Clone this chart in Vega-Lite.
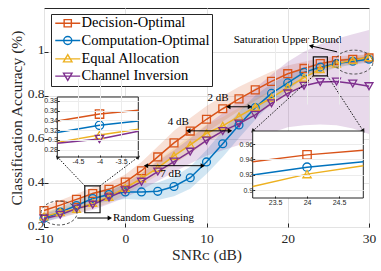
{
 "$schema": "https://vega.github.io/schema/vega-lite/v6.json",
 "width": 325, "height": 219,
 "autosize": {"type": "none"},
 "padding": {"left": 44, "top": 8, "right": 12, "bottom": 44},
 "background": "white",
 "config": {"view": {"stroke": "#262626", "strokeWidth": 1}, "font": "Liberation Serif"},
 "datasets": {
  "series": [
   {"snr":-10,"method":"Decision-Optimal","acc":0.275},{"snr":-8,"method":"Decision-Optimal","acc":0.300},{"snr":-6,"method":"Decision-Optimal","acc":0.326},{"snr":-4,"method":"Decision-Optimal","acc":0.353},{"snr":-2,"method":"Decision-Optimal","acc":0.372},{"snr":0,"method":"Decision-Optimal","acc":0.405},{"snr":2,"method":"Decision-Optimal","acc":0.457},{"snr":4,"method":"Decision-Optimal","acc":0.520},{"snr":6,"method":"Decision-Optimal","acc":0.584},{"snr":8,"method":"Decision-Optimal","acc":0.638},{"snr":10,"method":"Decision-Optimal","acc":0.692},{"snr":12,"method":"Decision-Optimal","acc":0.740},{"snr":14,"method":"Decision-Optimal","acc":0.785},{"snr":16,"method":"Decision-Optimal","acc":0.826},{"snr":18,"method":"Decision-Optimal","acc":0.865},{"snr":20,"method":"Decision-Optimal","acc":0.900},{"snr":22,"method":"Decision-Optimal","acc":0.924},{"snr":24,"method":"Decision-Optimal","acc":0.946},{"snr":26,"method":"Decision-Optimal","acc":0.960},{"snr":28,"method":"Decision-Optimal","acc":0.966},{"snr":30,"method":"Decision-Optimal","acc":0.972},
   {"snr":-10,"method":"Computation-Optimal","acc":0.240},{"snr":-8,"method":"Computation-Optimal","acc":0.268},{"snr":-6,"method":"Computation-Optimal","acc":0.298},{"snr":-4,"method":"Computation-Optimal","acc":0.330},{"snr":-2,"method":"Computation-Optimal","acc":0.348},{"snr":0,"method":"Computation-Optimal","acc":0.360},{"snr":2,"method":"Computation-Optimal","acc":0.360},{"snr":4,"method":"Computation-Optimal","acc":0.363},{"snr":6,"method":"Computation-Optimal","acc":0.385},{"snr":8,"method":"Computation-Optimal","acc":0.425},{"snr":10,"method":"Computation-Optimal","acc":0.497},{"snr":12,"method":"Computation-Optimal","acc":0.580},{"snr":14,"method":"Computation-Optimal","acc":0.666},{"snr":16,"method":"Computation-Optimal","acc":0.745},{"snr":18,"method":"Computation-Optimal","acc":0.810},{"snr":20,"method":"Computation-Optimal","acc":0.858},{"snr":22,"method":"Computation-Optimal","acc":0.906},{"snr":24,"method":"Computation-Optimal","acc":0.930},{"snr":26,"method":"Computation-Optimal","acc":0.946},{"snr":28,"method":"Computation-Optimal","acc":0.957},{"snr":30,"method":"Computation-Optimal","acc":0.966},
   {"snr":-10,"method":"Equal Allocation","acc":0.248},{"snr":-8,"method":"Equal Allocation","acc":0.268},{"snr":-6,"method":"Equal Allocation","acc":0.282},{"snr":-4,"method":"Equal Allocation","acc":0.310},{"snr":-2,"method":"Equal Allocation","acc":0.337},{"snr":0,"method":"Equal Allocation","acc":0.378},{"snr":2,"method":"Equal Allocation","acc":0.422},{"snr":4,"method":"Equal Allocation","acc":0.470},{"snr":6,"method":"Equal Allocation","acc":0.525},{"snr":8,"method":"Equal Allocation","acc":0.575},{"snr":10,"method":"Equal Allocation","acc":0.628},{"snr":12,"method":"Equal Allocation","acc":0.662},{"snr":14,"method":"Equal Allocation","acc":0.705},{"snr":16,"method":"Equal Allocation","acc":0.748},{"snr":18,"method":"Equal Allocation","acc":0.790},{"snr":20,"method":"Equal Allocation","acc":0.838},{"snr":22,"method":"Equal Allocation","acc":0.882},{"snr":24,"method":"Equal Allocation","acc":0.921},{"snr":26,"method":"Equal Allocation","acc":0.946},{"snr":28,"method":"Equal Allocation","acc":0.962},{"snr":30,"method":"Equal Allocation","acc":0.975},
   {"snr":-10,"method":"Channel Inversion","acc":0.238},{"snr":-8,"method":"Channel Inversion","acc":0.256},{"snr":-6,"method":"Channel Inversion","acc":0.284},{"snr":-4,"method":"Channel Inversion","acc":0.302},{"snr":-2,"method":"Channel Inversion","acc":0.335},{"snr":0,"method":"Channel Inversion","acc":0.368},{"snr":2,"method":"Channel Inversion","acc":0.407},{"snr":4,"method":"Channel Inversion","acc":0.453},{"snr":6,"method":"Channel Inversion","acc":0.499},{"snr":8,"method":"Channel Inversion","acc":0.544},{"snr":10,"method":"Channel Inversion","acc":0.595},{"snr":12,"method":"Channel Inversion","acc":0.638},{"snr":14,"method":"Channel Inversion","acc":0.672},{"snr":16,"method":"Channel Inversion","acc":0.712},{"snr":18,"method":"Channel Inversion","acc":0.765},{"snr":20,"method":"Channel Inversion","acc":0.810},{"snr":22,"method":"Channel Inversion","acc":0.845},{"snr":24,"method":"Channel Inversion","acc":0.862},{"snr":26,"method":"Channel Inversion","acc":0.864},{"snr":28,"method":"Channel Inversion","acc":0.855},{"snr":30,"method":"Channel Inversion","acc":0.843}
  ],
  "bands": [
   {"snr":-10,"method":"Decision-Optimal","lo":0.255,"hi":0.295},{"snr":-8,"method":"Decision-Optimal","lo":0.278,"hi":0.322},{"snr":-6,"method":"Decision-Optimal","lo":0.301,"hi":0.351},{"snr":-4,"method":"Decision-Optimal","lo":0.325,"hi":0.381},{"snr":-2,"method":"Decision-Optimal","lo":0.342,"hi":0.402},{"snr":0,"method":"Decision-Optimal","lo":0.370,"hi":0.440},{"snr":2,"method":"Decision-Optimal","lo":0.417,"hi":0.497},{"snr":4,"method":"Decision-Optimal","lo":0.472,"hi":0.568},{"snr":6,"method":"Decision-Optimal","lo":0.529,"hi":0.639},{"snr":8,"method":"Decision-Optimal","lo":0.578,"hi":0.698},{"snr":10,"method":"Decision-Optimal","lo":0.632,"hi":0.752},{"snr":12,"method":"Decision-Optimal","lo":0.682,"hi":0.798},{"snr":14,"method":"Decision-Optimal","lo":0.730,"hi":0.840},{"snr":16,"method":"Decision-Optimal","lo":0.776,"hi":0.876},{"snr":18,"method":"Decision-Optimal","lo":0.820,"hi":0.910},{"snr":20,"method":"Decision-Optimal","lo":0.862,"hi":0.938},{"snr":22,"method":"Decision-Optimal","lo":0.894,"hi":0.954},{"snr":24,"method":"Decision-Optimal","lo":0.921,"hi":0.971},{"snr":26,"method":"Decision-Optimal","lo":0.940,"hi":0.980},{"snr":28,"method":"Decision-Optimal","lo":0.948,"hi":0.984},{"snr":30,"method":"Decision-Optimal","lo":0.956,"hi":0.988},
   {"snr":-10,"method":"Computation-Optimal","lo":0.220,"hi":0.260},{"snr":-8,"method":"Computation-Optimal","lo":0.246,"hi":0.290},{"snr":-6,"method":"Computation-Optimal","lo":0.273,"hi":0.323},{"snr":-4,"method":"Computation-Optimal","lo":0.303,"hi":0.357},{"snr":-2,"method":"Computation-Optimal","lo":0.318,"hi":0.378},{"snr":0,"method":"Computation-Optimal","lo":0.328,"hi":0.392},{"snr":2,"method":"Computation-Optimal","lo":0.325,"hi":0.395},{"snr":4,"method":"Computation-Optimal","lo":0.323,"hi":0.403},{"snr":6,"method":"Computation-Optimal","lo":0.340,"hi":0.430},{"snr":8,"method":"Computation-Optimal","lo":0.375,"hi":0.475},{"snr":10,"method":"Computation-Optimal","lo":0.442,"hi":0.552},{"snr":12,"method":"Computation-Optimal","lo":0.520,"hi":0.640},{"snr":14,"method":"Computation-Optimal","lo":0.606,"hi":0.726},{"snr":16,"method":"Computation-Optimal","lo":0.690,"hi":0.800},{"snr":18,"method":"Computation-Optimal","lo":0.765,"hi":0.855},{"snr":20,"method":"Computation-Optimal","lo":0.823,"hi":0.893},{"snr":22,"method":"Computation-Optimal","lo":0.881,"hi":0.931},{"snr":24,"method":"Computation-Optimal","lo":0.910,"hi":0.950},{"snr":26,"method":"Computation-Optimal","lo":0.928,"hi":0.964},{"snr":28,"method":"Computation-Optimal","lo":0.941,"hi":0.973},{"snr":30,"method":"Computation-Optimal","lo":0.951,"hi":0.981},
   {"snr":-10,"method":"Equal Allocation","lo":0.232,"hi":0.268},{"snr":-8,"method":"Equal Allocation","lo":0.248,"hi":0.288},{"snr":-6,"method":"Equal Allocation","lo":0.260,"hi":0.304},{"snr":-4,"method":"Equal Allocation","lo":0.286,"hi":0.334},{"snr":-2,"method":"Equal Allocation","lo":0.309,"hi":0.361},{"snr":0,"method":"Equal Allocation","lo":0.350,"hi":0.406},{"snr":2,"method":"Equal Allocation","lo":0.392,"hi":0.452},{"snr":4,"method":"Equal Allocation","lo":0.436,"hi":0.504},{"snr":6,"method":"Equal Allocation","lo":0.488,"hi":0.562},{"snr":8,"method":"Equal Allocation","lo":0.535,"hi":0.615},{"snr":10,"method":"Equal Allocation","lo":0.588,"hi":0.668},{"snr":12,"method":"Equal Allocation","lo":0.622,"hi":0.702},{"snr":14,"method":"Equal Allocation","lo":0.665,"hi":0.745},{"snr":16,"method":"Equal Allocation","lo":0.710,"hi":0.786},{"snr":18,"method":"Equal Allocation","lo":0.755,"hi":0.825},{"snr":20,"method":"Equal Allocation","lo":0.806,"hi":0.870},{"snr":22,"method":"Equal Allocation","lo":0.855,"hi":0.909},{"snr":24,"method":"Equal Allocation","lo":0.899,"hi":0.943},{"snr":26,"method":"Equal Allocation","lo":0.928,"hi":0.964},{"snr":28,"method":"Equal Allocation","lo":0.946,"hi":0.978},{"snr":30,"method":"Equal Allocation","lo":0.960,"hi":0.990},
   {"snr":-10,"method":"Channel Inversion","lo":0.225,"hi":0.260},{"snr":-8,"method":"Channel Inversion","lo":0.240,"hi":0.278},{"snr":-6,"method":"Channel Inversion","lo":0.262,"hi":0.302},{"snr":-4,"method":"Channel Inversion","lo":0.278,"hi":0.326},{"snr":-2,"method":"Channel Inversion","lo":0.305,"hi":0.360},{"snr":0,"method":"Channel Inversion","lo":0.335,"hi":0.400},{"snr":2,"method":"Channel Inversion","lo":0.370,"hi":0.445},{"snr":4,"method":"Channel Inversion","lo":0.410,"hi":0.500},{"snr":6,"method":"Channel Inversion","lo":0.450,"hi":0.550},{"snr":8,"method":"Channel Inversion","lo":0.490,"hi":0.605},{"snr":10,"method":"Channel Inversion","lo":0.525,"hi":0.665},{"snr":12,"method":"Channel Inversion","lo":0.550,"hi":0.720},{"snr":14,"method":"Channel Inversion","lo":0.575,"hi":0.775},{"snr":16,"method":"Channel Inversion","lo":0.600,"hi":0.835},{"snr":18,"method":"Channel Inversion","lo":0.630,"hi":0.895},{"snr":20,"method":"Channel Inversion","lo":0.655,"hi":0.955},{"snr":22,"method":"Channel Inversion","lo":0.665,"hi":1.000},{"snr":24,"method":"Channel Inversion","lo":0.668,"hi":1.035},{"snr":26,"method":"Channel Inversion","lo":0.665,"hi":1.060},{"snr":28,"method":"Channel Inversion","lo":0.650,"hi":1.080},{"snr":30,"method":"Channel Inversion","lo":0.625,"hi":1.100}
  ],
  "inset1": [
   {"snr":-4.98,"method":"Decision-Optimal","acc":0.339},{"snr":-4,"method":"Decision-Optimal","acc":0.353},{"snr":-3.1,"method":"Decision-Optimal","acc":0.361},
   {"snr":-4.98,"method":"Computation-Optimal","acc":0.315},{"snr":-4,"method":"Computation-Optimal","acc":0.330},{"snr":-3.1,"method":"Computation-Optimal","acc":0.339},
   {"snr":-4.98,"method":"Equal Allocation","acc":0.295},{"snr":-4,"method":"Equal Allocation","acc":0.310},{"snr":-3.1,"method":"Equal Allocation","acc":0.322},
   {"snr":-4.98,"method":"Channel Inversion","acc":0.293},{"snr":-4,"method":"Channel Inversion","acc":0.302},{"snr":-3.1,"method":"Channel Inversion","acc":0.318}
  ],
  "inset2": [
   {"snr":23.15,"method":"Decision-Optimal","acc":0.937},{"snr":24,"method":"Decision-Optimal","acc":0.946},{"snr":24.88,"method":"Decision-Optimal","acc":0.952},
   {"snr":23.15,"method":"Computation-Optimal","acc":0.920},{"snr":24,"method":"Computation-Optimal","acc":0.930},{"snr":24.88,"method":"Computation-Optimal","acc":0.937},
   {"snr":23.15,"method":"Equal Allocation","acc":0.905},{"snr":24,"method":"Equal Allocation","acc":0.921},{"snr":24.88,"method":"Equal Allocation","acc":0.932}
  ],
  "boxes": [{"x0":-4.98,"x1":-3.1,"y0":0.265,"y1":0.388},{"x0":23.15,"x1":24.88,"y0":0.89,"y1":0.977}],
  "connectors": [{"x1":-4.98,"y1":0.388,"x2":-8.36,"y2":0.52},{"x1":-3.1,"y1":0.388,"x2":1.61,"y2":0.52},{"x1":23.15,"y1":0.89,"x2":15.69,"y2":0.638},{"x1":24.88,"y1":0.89,"x2":29.3,"y2":0.638}],
  "dbarrows": [{"x1":12.68,"x2":15.35,"y":0.749},{"x1":7.76,"x2":12.89,"y":0.639},{"x1":2.55,"x2":9.55,"y":0.48}],
  "notes": [{"x":11.42,"y":0.789,"t":"2 dB"},{"x":6.53,"y":0.679,"t":"4 dB"},{"x":5.6,"y":0.442,"t":"7 dB"},{"x":19.97,"y":1.054,"t":"Saturation Upper Bound"}]
 },
 "layer": [
  {
   "layer": [
    {"data": {"name": "bands"}, "mark": {"type": "area", "opacity": 0.18},
     "encoding": {
      "x": {"field": "snr", "type": "quantitative", "scale": {"domain": [-10, 30], "nice": false, "zero": false},
            "axis": {"title": "SNRᴄ (dB)", "values": [-10, 0, 10, 20, 30], "labelExpr": "datum.value < 0 ? '-' + abs(datum.value) : '' + datum.value", "grid": true, "gridColor": "#e3e3e3", "domain": false, "tickSize": -4, "tickColor": "#262626", "labelFont": "Liberation Serif", "labelFontSize": 13.5, "labelColor": "#262626", "labelPadding": 8, "labelFlush": false, "titleFont": "Liberation Serif", "titleFontSize": 15.5, "titleFontWeight": "normal", "titleColor": "#262626", "titlePadding": 3}},
      "y": {"field": "lo", "type": "quantitative", "scale": {"domain": [0.2, 1.2], "nice": false, "zero": false},
            "axis": {"title": "Classification Accuracy (%)", "values": [0.2, 0.4, 0.6, 0.8, 1], "format": "~g", "grid": true, "gridColor": "#e3e3e3", "domain": false, "tickSize": -4, "tickColor": "#262626", "labelFont": "Liberation Serif", "labelFontSize": 13.5, "labelColor": "#262626", "labelPadding": 4, "labelOffset": -2, "labelFlush": false, "titleFont": "Liberation Serif", "titleFontSize": 15.5, "titleFontWeight": "normal", "titleColor": "#262626", "titlePadding": 3}},
      "y2": {"field": "hi"},
      "color": {"field": "method", "type": "nominal", "scale": {"domain": ["Decision-Optimal", "Computation-Optimal", "Equal Allocation", "Channel Inversion"], "range": ["#D95319", "#0072BD", "#EDB120", "#7E2F8E"]}, "legend": null}
     }},
    {"data": {"name": "series"}, "mark": {"type": "line", "strokeWidth": 1.5},
     "encoding": {
      "x": {"field": "snr", "type": "quantitative"},
      "y": {"field": "acc", "type": "quantitative"},
      "color": {"field": "method", "type": "nominal", "legend": null}
     }},
    {"data": {"name": "series"}, "mark": {"type": "point", "filled": false, "size": 62, "strokeWidth": 1.3, "opacity": 1},
     "encoding": {
      "x": {"field": "snr", "type": "quantitative"},
      "y": {"field": "acc", "type": "quantitative"},
      "color": {"field": "method", "type": "nominal", "legend": null},
      "shape": {"field": "method", "type": "nominal", "scale": {"domain": ["Decision-Optimal", "Computation-Optimal", "Equal Allocation", "Channel Inversion"], "range": ["square", "circle", "triangle-up", "triangle-down"]}, "legend": null}
     }},
    {"data": {"name": "boxes"}, "mark": {"type": "rect", "fill": "transparent", "stroke": "#111111", "strokeWidth": 1.2},
     "encoding": {"x": {"field": "x0", "type": "quantitative"}, "x2": {"field": "x1"}, "y": {"field": "y0", "type": "quantitative"}, "y2": {"field": "y1"}}},
    {"data": {"name": "connectors"}, "mark": {"type": "rule", "strokeDash": [1.5, 1.5], "strokeWidth": 1, "color": "#111111"},
     "encoding": {"x": {"field": "x1", "type": "quantitative"}, "y": {"field": "y1", "type": "quantitative"}, "x2": {"field": "x2"}, "y2": {"field": "y2"}}},
    {"data": {"values": [{"x": -8.36, "y": 0.52}]}, "mark": {"type": "point", "shape": "triangle-right", "angle": 226, "filled": true, "color": "#111111", "size": 22, "opacity": 1},
     "encoding": {"x": {"field": "x", "type": "quantitative"}, "y": {"field": "y", "type": "quantitative"}}},
    {"data": {"values": [{"x": 1.61, "y": 0.52}]}, "mark": {"type": "point", "shape": "triangle-right", "angle": 323, "filled": true, "color": "#111111", "size": 22, "opacity": 1},
     "encoding": {"x": {"field": "x", "type": "quantitative"}, "y": {"field": "y", "type": "quantitative"}}},
    {"data": {"values": [{"x": 15.69, "y": 0.638}]}, "mark": {"type": "point", "shape": "triangle-right", "angle": 138, "filled": true, "color": "#111111", "size": 22, "opacity": 1},
     "encoding": {"x": {"field": "x", "type": "quantitative"}, "y": {"field": "y", "type": "quantitative"}}},
    {"data": {"values": [{"x": 29.3, "y": 0.638}]}, "mark": {"type": "point", "shape": "triangle-right", "angle": 57, "filled": true, "color": "#111111", "size": 22, "opacity": 1},
     "encoding": {"x": {"field": "x", "type": "quantitative"}, "y": {"field": "y", "type": "quantitative"}}},
    {"data": {"name": "dbarrows"}, "mark": {"type": "rule", "strokeWidth": 1, "color": "black"},
     "encoding": {"x": {"field": "x1", "type": "quantitative"}, "x2": {"field": "x2"}, "y": {"field": "y", "type": "quantitative"}}},
    {"data": {"name": "dbarrows"}, "mark": {"type": "point", "shape": "triangle-left", "filled": true, "color": "black", "size": 26, "opacity": 1},
     "encoding": {"x": {"field": "x1", "type": "quantitative"}, "y": {"field": "y", "type": "quantitative"}}},
    {"data": {"name": "dbarrows"}, "mark": {"type": "point", "shape": "triangle-right", "filled": true, "color": "black", "size": 26, "opacity": 1},
     "encoding": {"x": {"field": "x2", "type": "quantitative"}, "y": {"field": "y", "type": "quantitative"}}},
    {"data": {"values": [{"x1": 26.06, "y1": 1.0, "x2": 22.86, "y2": 1.027}]}, "mark": {"type": "rule", "strokeWidth": 1, "color": "black"},
     "encoding": {"x": {"field": "x1", "type": "quantitative"}, "y": {"field": "y1", "type": "quantitative"}, "x2": {"field": "x2"}, "y2": {"field": "y2"}}},
    {"data": {"values": [{"x": 22.86, "y": 1.027}]}, "mark": {"type": "point", "shape": "triangle-right", "angle": 193, "filled": true, "color": "black", "size": 26, "opacity": 1},
     "encoding": {"x": {"field": "x", "type": "quantitative"}, "y": {"field": "y", "type": "quantitative"}}},
    {"data": {"values": [{"x1": -5.9, "x2": -1.9, "y": 0.241}]}, "mark": {"type": "rule", "strokeWidth": 1, "color": "black"},
     "encoding": {"x": {"field": "x1", "type": "quantitative"}, "x2": {"field": "x2"}, "y": {"field": "y", "type": "quantitative"}}},
    {"data": {"values": [{"x": -1.9, "y": 0.241}]}, "mark": {"type": "point", "shape": "triangle-right", "filled": true, "color": "black", "size": 26, "opacity": 1},
     "encoding": {"x": {"field": "x", "type": "quantitative"}, "y": {"field": "y", "type": "quantitative"}}},
    {"data": {"values": [{"x": 28.15, "y": 0.953}]}, "mark": {"type": "point", "shape": "M-1,0A1,0.63,0,1,1,1,0A1,0.63,0,1,1,-1,0Z", "size": 1444, "filled": false, "color": "#444444", "strokeWidth": 0.9, "strokeDash": [3, 2], "opacity": 1},
     "encoding": {"x": {"field": "x", "type": "quantitative"}, "y": {"field": "y", "type": "quantitative"}}},
    {"data": {"values": [{"x": -8.15, "y": 0.264}]}, "mark": {"type": "point", "shape": "M-1,0A1,0.667,0,1,1,1,0A1,0.667,0,1,1,-1,0Z", "size": 1296, "filled": false, "color": "#444444", "strokeWidth": 0.9, "strokeDash": [3, 2], "opacity": 1},
     "encoding": {"x": {"field": "x", "type": "quantitative"}, "y": {"field": "y", "type": "quantitative"}}},
    {"data": {"name": "notes"}, "mark": {"type": "text", "font": "Liberation Serif", "fontSize": 11, "color": "black", "align": "center", "baseline": "middle"},
     "encoding": {"x": {"field": "x", "type": "quantitative"}, "y": {"field": "y", "type": "quantitative"}, "text": {"field": "t"}}},
    {"data": {"values": [{"x": -1.51, "y": 0.241, "t": "Random Guessing"}]}, "mark": {"type": "text", "font": "Liberation Serif", "fontSize": 11, "color": "black", "align": "left", "baseline": "middle"},
     "encoding": {"x": {"field": "x", "type": "quantitative"}, "y": {"field": "y", "type": "quantitative"}, "text": {"field": "t"}}}
   ]
  },
  {
   "layer": [
    {"data": {"values": [{"x0": -4.98, "x1": -3.1, "y0": 0.265, "y1": 0.388}]}, "mark": {"type": "rect", "fill": "white", "stroke": "#262626", "strokeWidth": 1},
     "encoding": {
      "x": {"field": "x0", "type": "quantitative", "scale": {"domain": [-4.98, -3.1], "range": [13.3, 94.3], "nice": false, "zero": false},
            "axis": {"orient": "bottom", "offset": -70, "title": null, "values": [-4.5, -4, -3.5], "labelExpr": "datum.value < 0 ? '-' + abs(datum.value) : '' + datum.value", "grid": true, "gridColor": "#ececec", "domain": false, "tickSize": -2, "tickColor": "#262626", "labelFont": "Liberation Sans", "labelFontSize": 7, "labelColor": "#262626", "labelPadding": 2, "labelFlush": false, "zindex": 1}},
      "x2": {"field": "x1"},
      "y": {"field": "y0", "type": "quantitative", "scale": {"domain": [0.265, 0.388], "range": [149, 89], "nice": false, "zero": false},
            "axis": {"orient": "left", "offset": -13.3, "title": null, "values": [0.28, 0.3, 0.32, 0.34, 0.36, 0.38], "format": "~g", "grid": true, "gridColor": "#ececec", "domain": false, "tickSize": -2, "tickColor": "#262626", "labelFont": "Liberation Sans", "labelFontSize": 7, "labelColor": "#262626", "labelPadding": 2, "labelFlush": false, "zindex": 1}},
      "y2": {"field": "y1"}
     }},
    {"data": {"name": "inset1"}, "mark": {"type": "line", "strokeWidth": 1.5},
     "encoding": {"x": {"field": "snr", "type": "quantitative", "title": null}, "y": {"field": "acc", "type": "quantitative", "title": null}, "color": {"field": "method", "type": "nominal", "legend": null}}},
    {"data": {"name": "inset1"}, "transform": [{"filter": "datum.snr == -4"}], "mark": {"type": "point", "filled": false, "size": 70, "strokeWidth": 1.3, "opacity": 1},
     "encoding": {"x": {"field": "snr", "type": "quantitative", "title": null}, "y": {"field": "acc", "type": "quantitative", "title": null}, "color": {"field": "method", "type": "nominal", "legend": null},
      "shape": {"field": "method", "type": "nominal", "scale": {"domain": ["Decision-Optimal", "Computation-Optimal", "Equal Allocation", "Channel Inversion"], "range": ["square", "circle", "triangle-up", "triangle-down"]}, "legend": null}}}
   ]
  },
  {
   "layer": [
    {"data": {"values": [{"x0": 23.15, "x1": 24.88, "y0": 0.89, "y1": 0.977}]}, "mark": {"type": "rect", "fill": "white", "stroke": "#262626", "strokeWidth": 1},
     "encoding": {
      "x": {"field": "x0", "type": "quantitative", "scale": {"domain": [23.15, 24.88], "range": [208.7, 319.3], "nice": false, "zero": false},
            "axis": {"orient": "bottom", "offset": -29, "title": null, "values": [23.5, 24, 24.5], "format": "~g", "grid": true, "gridColor": "#ececec", "domain": false, "tickSize": -2, "tickColor": "#262626", "labelFont": "Liberation Sans", "labelFontSize": 7, "labelColor": "#262626", "labelPadding": 2, "labelFlush": false, "zindex": 1}},
      "x2": {"field": "x1"},
      "y": {"field": "y0", "type": "quantitative", "scale": {"domain": [0.89, 0.977], "range": [190, 123], "nice": false, "zero": false},
            "axis": {"orient": "left", "offset": -208.7, "title": null, "values": [0.9, 0.92, 0.94, 0.96], "format": "~g", "grid": true, "gridColor": "#ececec", "domain": false, "tickSize": -2, "tickColor": "#262626", "labelFont": "Liberation Sans", "labelFontSize": 7, "labelColor": "#262626", "labelPadding": 2, "labelFlush": false, "zindex": 1}},
      "y2": {"field": "y1"}
     }},
    {"data": {"name": "inset2"}, "mark": {"type": "line", "strokeWidth": 1.5},
     "encoding": {"x": {"field": "snr", "type": "quantitative", "title": null}, "y": {"field": "acc", "type": "quantitative", "title": null}, "color": {"field": "method", "type": "nominal", "legend": null}}},
    {"data": {"name": "inset2"}, "transform": [{"filter": "datum.snr == 24"}], "mark": {"type": "point", "filled": false, "size": 70, "strokeWidth": 1.3, "opacity": 1},
     "encoding": {"x": {"field": "snr", "type": "quantitative", "title": null}, "y": {"field": "acc", "type": "quantitative", "title": null}, "color": {"field": "method", "type": "nominal", "legend": null},
      "shape": {"field": "method", "type": "nominal", "scale": {"domain": ["Decision-Optimal", "Computation-Optimal", "Equal Allocation", "Channel Inversion"], "range": ["square", "circle", "triangle-up", "triangle-down"]}, "legend": null}}}
   ]
  },
  {
   "data": {"name": "series"}, "transform": [{"filter": "datum.snr == 30"}],
   "mark": {"type": "point", "filled": false, "opacity": 0},
   "encoding": {
    "x": {"field": "snr", "type": "quantitative", "axis": null},
    "y": {"field": "acc", "type": "quantitative", "axis": null},
    "shape": {"field": "method", "type": "nominal",
      "scale": {"domain": ["Decision-Optimal", "Computation-Optimal", "Equal Allocation", "Channel Inversion"], "range": ["M-1,0H4M0.78,-0.72H2.22V0.72H0.78Z", "M-1,0H4M0.7,0A0.8,0.8,0,1,0,2.3,0A0.8,0.8,0,1,0,0.7,0Z", "M-1,0H4M1.5,-0.85L2.35,0.6L0.65,0.6Z", "M-1,0H4M1.5,0.85L2.35,-0.6L0.65,-0.6Z"]},
      "legend": {"title": null, "orient": "none", "legendX": 7, "legendY": 6, "padding": 2, "strokeColor": "#262626", "fillColor": "white", "labelFont": "Liberation Serif", "labelFontSize": 14.5, "labelColor": "black", "labelLimit": 0, "symbolSize": 100, "symbolStrokeWidth": 1.4, "symbolOpacity": 1, "symbolFillColor": "transparent", "labelOffset": 14, "rowPadding": 2.3}},
    "stroke": {"field": "method", "type": "nominal",
      "scale": {"domain": ["Decision-Optimal", "Computation-Optimal", "Equal Allocation", "Channel Inversion"], "range": ["#D95319", "#0072BD", "#EDB120", "#7E2F8E"]},
      "legend": {"title": null, "orient": "none", "legendX": 7, "legendY": 6, "padding": 2, "strokeColor": "#262626", "fillColor": "white", "labelFont": "Liberation Serif", "labelFontSize": 14.5, "labelColor": "black", "labelLimit": 0, "symbolSize": 100, "symbolStrokeWidth": 1.4, "symbolOpacity": 1, "symbolFillColor": "transparent", "labelOffset": 14, "rowPadding": 2.3}}
   }
  }
 ],
 "resolve": {"scale": {"x": "independent", "y": "independent", "shape": "independent", "stroke": "independent"}, "axis": {"x": "independent", "y": "independent"}, "legend": {"shape": "independent", "stroke": "independent"}}
}
